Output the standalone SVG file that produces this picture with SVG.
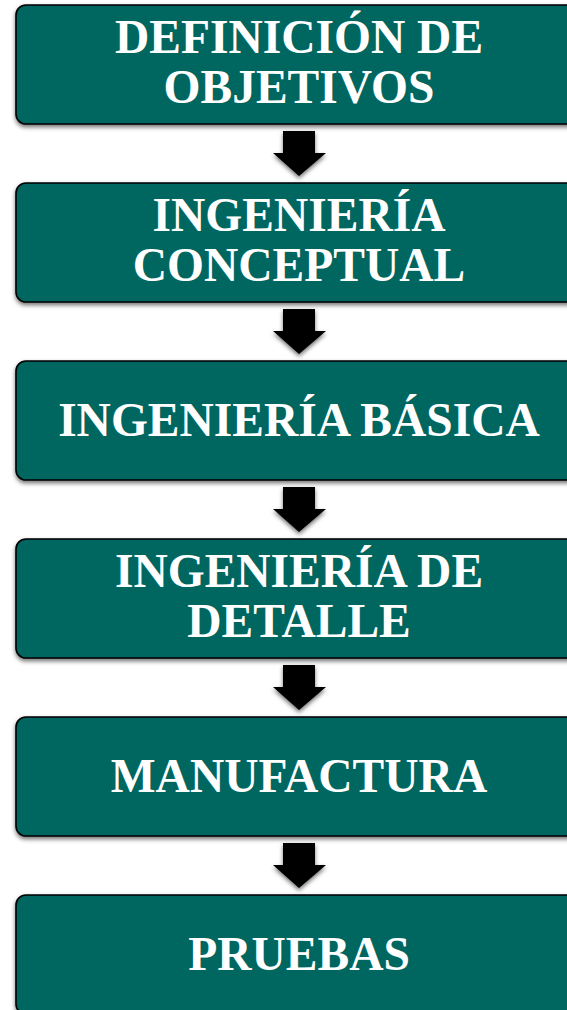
<svg xmlns="http://www.w3.org/2000/svg" width="567" height="1010" viewBox="0 0 567 1010">
  <style>
    .box { fill: #006661; stroke: #000000; stroke-width: 1.6; filter: url(#sh); }
    .lbl { font-family: "Liberation Serif", "Times New Roman", serif; font-weight: bold; font-size: 47.5px; fill: #ffffff; text-anchor: middle; }
    .arr { fill: #000000; filter: url(#sh); }
  </style>
  <defs>
    <filter id="sh" x="-20%" y="-20%" width="140%" height="150%">
      <feDropShadow dx="0" dy="2.5" stdDeviation="2.2" flood-color="#000000" flood-opacity="0.55"/>
    </filter>
  </defs>
  <rect width="567" height="1010" fill="#ffffff"/>

  <g id="n1">
    <rect class="box" x="16" y="5" width="566" height="119" rx="10"/>
    <text class="lbl" x="299" y="53">DEFINICIÓN DE</text>
    <text class="lbl" x="299" y="103">OBJETIVOS</text>
  </g>
  <g id="n2">
    <rect class="box" x="16" y="183" width="566" height="119" rx="10"/>
    <text class="lbl" x="299" y="231">INGENIERÍA</text>
    <text class="lbl" x="299" y="281">CONCEPTUAL</text>
  </g>
  <g id="n3">
    <rect class="box" x="16" y="361" width="566" height="119" rx="10"/>
    <text class="lbl" x="299" y="436">INGENIERÍA BÁSICA</text>
  </g>
  <g id="n4">
    <rect class="box" x="16" y="539" width="566" height="119" rx="10"/>
    <text class="lbl" x="299" y="587">INGENIERÍA DE</text>
    <text class="lbl" x="299" y="637">DETALLE</text>
  </g>
  <g id="n5">
    <rect class="box" x="16" y="717" width="566" height="119" rx="10"/>
    <text class="lbl" x="299" y="792">MANUFACTURA</text>
  </g>
  <g id="n6">
    <rect class="box" x="16" y="895" width="566" height="119" rx="10"/>
    <text class="lbl" x="299" y="970">PRUEBAS</text>
  </g>

  <g id="connectors">
    <polygon class="arr" points="283,131 315,131 315,153 326,153 299,176 273,153 283,153"/>
    <polygon class="arr" points="283,309 315,309 315,331 326,331 299,354 273,331 283,331"/>
    <polygon class="arr" points="283,487 315,487 315,509 326,509 299,532 273,509 283,509"/>
    <polygon class="arr" points="283,665 315,665 315,687 326,687 299,710 273,687 283,687"/>
    <polygon class="arr" points="283,843 315,843 315,865 326,865 299,888 273,865 283,865"/>
  </g>
</svg>
